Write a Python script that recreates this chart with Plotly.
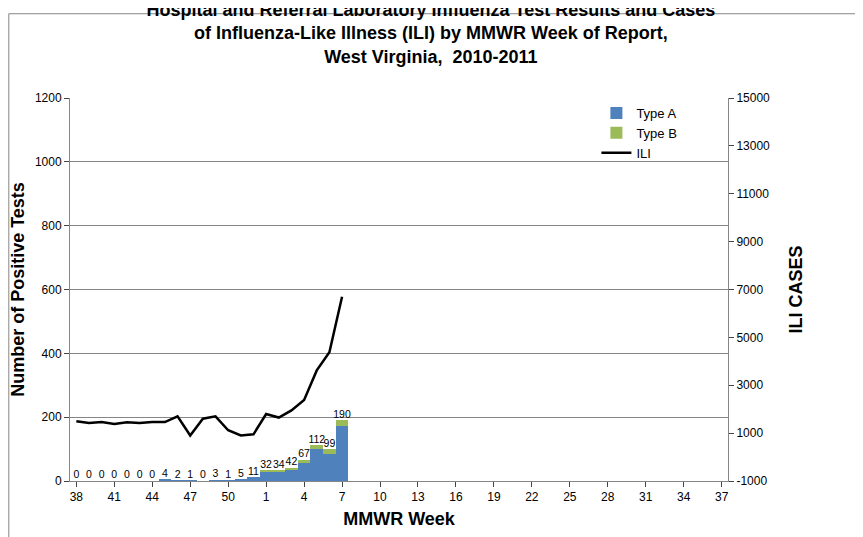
import plotly.graph_objects as go

weeks = [str(w) for w in list(range(38, 53)) + list(range(1, 38))]
data_weeks = [str(w) for w in list(range(38, 53)) + list(range(1, 8))]
totals = [0, 0, 0, 0, 0, 0, 0, 4, 2, 1, 0, 3, 1, 5, 11, 32, 34, 42, 67, 112, 99, 190]
type_b = [0, 0, 0, 0, 0, 0, 0, 0, 0, 0, 0, 0, 0, 0, 0, 2, 3, 6, 10, 12, 14, 18]
type_a = [t - b for t, b in zip(totals, type_b)]
ili = [1500, 1420, 1460, 1380, 1450, 1420, 1460, 1460, 1700, 900, 1600, 1700,
       1120, 900, 950, 1800, 1650, 1950, 2380, 3620, 4380, 6700]
tick_weeks = [weeks[i] for i in range(0, len(weeks), 3)]
ili_ticks = list(range(-1000, 15001, 2000))

fig = go.Figure()
fig.add_trace(go.Bar(x=data_weeks, y=type_a, name='Type A', marker_color='#4F81BD',
                     marker_line_width=0))
fig.add_trace(go.Bar(x=data_weeks, y=type_b, name='Type B', marker_color='#9BBB59',
                     marker_line_width=0))
fig.add_trace(go.Scatter(x=data_weeks, y=totals, mode='text', text=[str(t) for t in totals],
                         textposition='top center', textfont=dict(size=10.5, color='black'),
                         showlegend=False, hoverinfo='skip'))
fig.add_trace(go.Scatter(x=data_weeks, y=ili, name='ILI', mode='lines', yaxis='y2',
                         line=dict(color='black', width=2.5)))

fig.update_layout(
    width=863, height=537, barmode='stack', bargap=0,
    paper_bgcolor='white', plot_bgcolor='white',
    font=dict(family='Liberation Sans, Arial', color='black'),
    margin=dict(l=62, r=143, t=90, b=64, autoexpand=False),
    title=dict(text='<b>Hospital and Referral Laboratory Influenza Test Results and Cases<br>'
                    'of Influenza-Like Illness (ILI) by MMWR Week of Report,<br>'
                    'West Virginia,  2010-2011</b>',
               x=0.49, xanchor='center', yref='container', y=0.985, yanchor='top',
               font=dict(size=18)),
    xaxis=dict(type='category', categoryorder='array', categoryarray=weeks,
               tickvals=tick_weeks, ticks='outside', tickfont=dict(size=12),
               showline=True, linecolor='#868686', range=[-0.5, len(weeks) - 0.5],
               automargin=False,
               title=dict(text='<b>MMWR Week</b>', font=dict(size=18), standoff=8)),
    yaxis=dict(range=[0, 1200], dtick=200, showgrid=True, gridcolor='#868686',
               showline=True, linecolor='#868686', ticks='outside', tickfont=dict(size=12),
               automargin=False,
               title=dict(text='<b>Number of Positive Tests</b>', font=dict(size=18))),
    yaxis2=dict(range=[-1000, 15000], tickvals=ili_ticks, ticktext=[str(v) for v in ili_ticks],
                overlaying='y', side='right', automargin=False,
                showgrid=False, showline=True, linecolor='#868686', ticks='outside',
                tickfont=dict(size=12),
                title=dict(text='<b>ILI CASES</b>', font=dict(size=18), standoff=20)),
    legend=dict(x=0.8, y=1.0, xanchor='left', yanchor='top', bgcolor='rgba(0,0,0,0)',
                font=dict(size=13), traceorder='normal', tracegroupgap=0),
    shapes=[dict(type='rect', xref='paper', yref='paper', x0=-0.093, x1=1.215,
                 y0=-0.163, y1=1.22, line=dict(color='#868686', width=1))],
)

fig.write_html("out.html")
